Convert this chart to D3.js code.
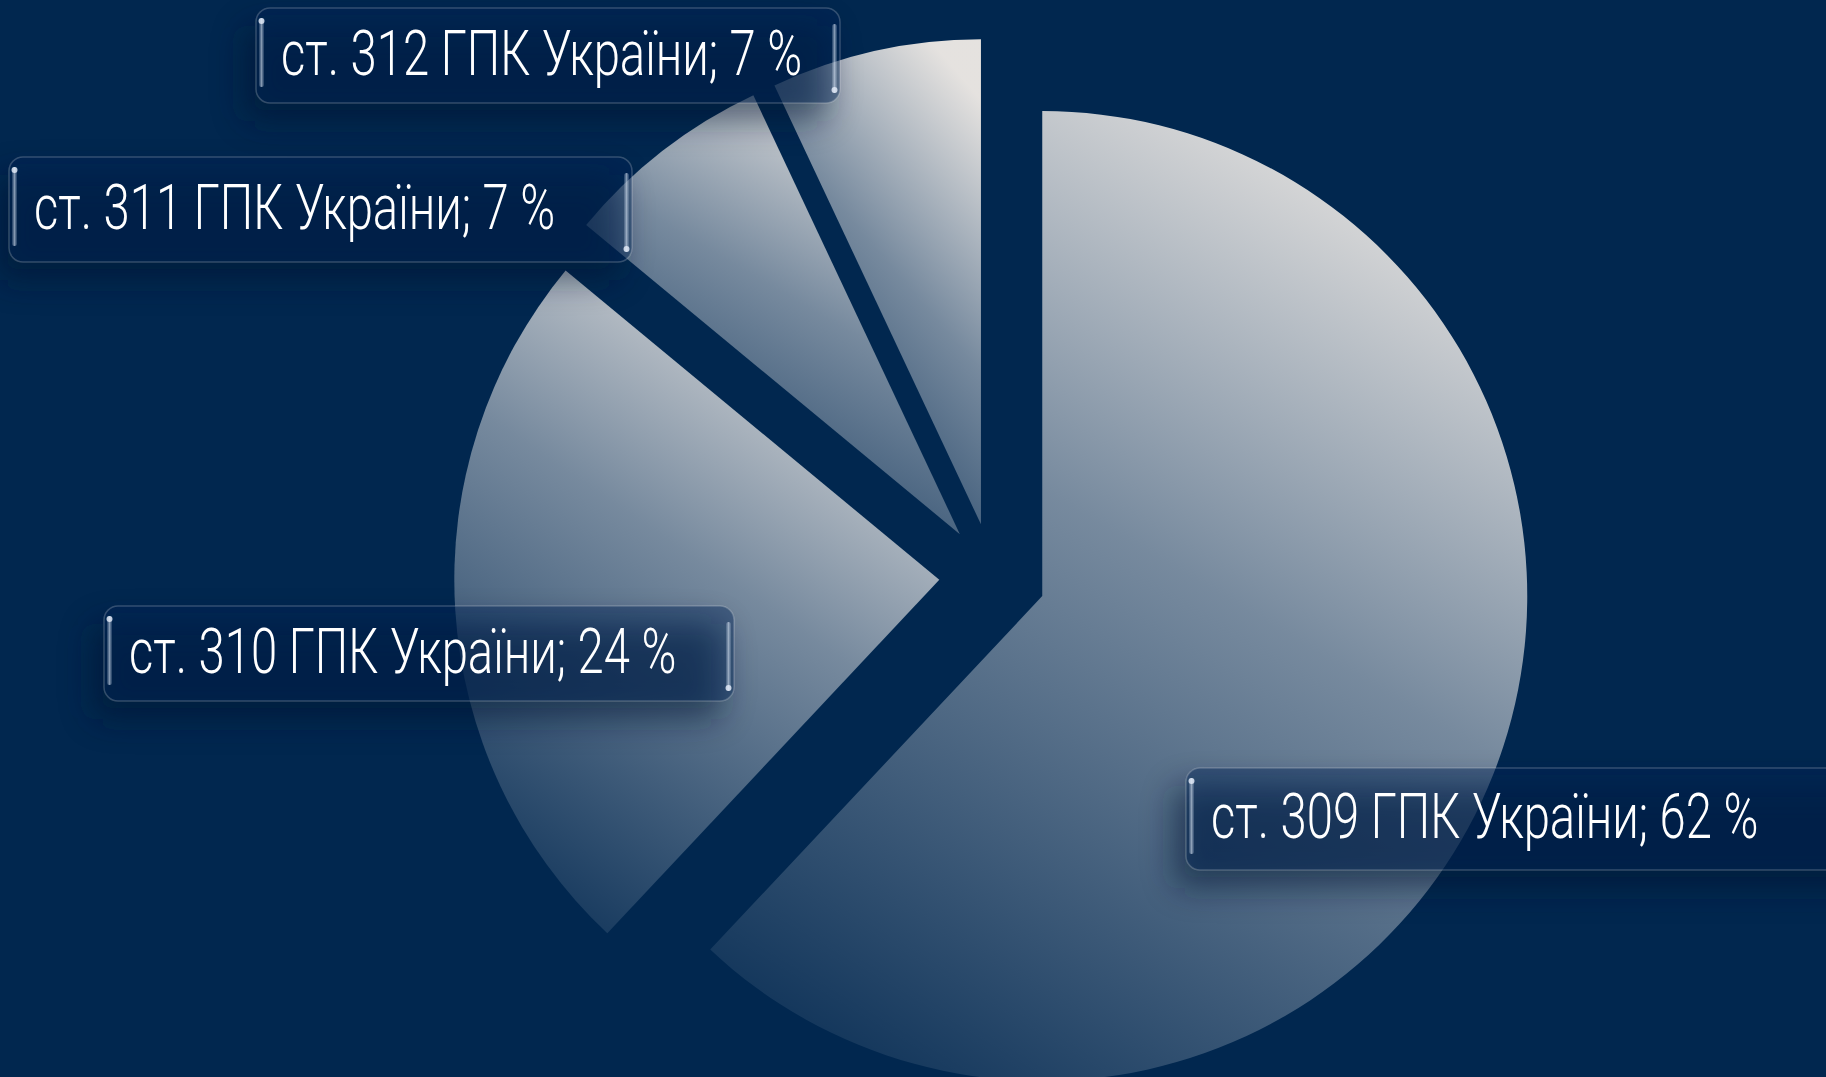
<!DOCTYPE html>
<html>
<head>
<meta charset="utf-8">
<script src="https://cdn.jsdelivr.net/npm/d3@7"></script>
<style>
  body { margin: 0; background: #01274f; overflow: hidden; }
  .lbl { font-family: "Roboto Light", Roboto, "Noto Sans", sans-serif; font-weight: 300; fill: #ffffff; }
</style>
</head>
<body>
<div id="chart"></div>
<script>
// data
let articles = ["ст. 309 ГПК України", "ст. 310 ГПК України", "ст. 311 ГПК України", "ст. 312 ГПК України"];
let shares = [62, 24, 7, 7];
let unit = " %";

// label boxes (page px), same order as articles
let boxX = [1186, 104, 9, 256];
let boxY = [768, 606, 157, 8];
let boxW = [700, 630, 623, 584];
let boxH = [102, 95, 105, 95];

let W = 1826, H = 1077;
let cx = 992.6, cy = 576.4;
let radius = 485;
let explode = 53.4;
let fontSize = 63;
let condense = 0.75;

let svg = d3.select("#chart").append("svg")
    .attr("width", W)
    .attr("height", H)
    .attr("style", "display:block;background:#01274f");

let defs = svg.append("defs");

let grad = defs.append("linearGradient")
    .attr("id", "sliceGrad")
    .attr("x1", 0.75).attr("y1", 0)
    .attr("x2", 0.25).attr("y2", 1);
grad.append("stop").attr("offset", "0%").attr("stop-color", "#f6f0ea").attr("stop-opacity", 0.93);
grad.append("stop").attr("offset", "45%").attr("stop-color", "#fbf9f7").attr("stop-opacity", 0.47);
grad.append("stop").attr("offset", "100%").attr("stop-color", "#ffffff").attr("stop-opacity", 0.08);

// glass edge highlight
let hl = defs.append("linearGradient").attr("id", "edgeGlow");
hl.append("stop").attr("offset", "0%").attr("stop-color", "#c8d6ea").attr("stop-opacity", 0.15);
hl.append("stop").attr("offset", "50%").attr("stop-color", "#dde8f6").attr("stop-opacity", 0.6);
hl.append("stop").attr("offset", "100%").attr("stop-color", "#c8d6ea").attr("stop-opacity", 0.15);

defs.append("filter")
    .attr("id", "blurShadow")
    .attr("x", "-30%").attr("y", "-60%").attr("width", "160%").attr("height", "220%")
  .append("feGaussianBlur")
    .attr("stdDeviation", 16);

defs.append("filter")
    .attr("id", "soft")
    .attr("x", "-100%").attr("y", "-20%").attr("width", "300%").attr("height", "140%")
  .append("feGaussianBlur")
    .attr("stdDeviation", 0.6);

let pieGen = d3.pie().sort(null).value(d => d).startAngle(0).endAngle(2 * Math.PI);
let arcGen = d3.arc().innerRadius(0).outerRadius(radius);
let arcs = pieGen(shares);

// slices, each pulled out along its middle angle
svg.append("g")
    .attr("transform", "translate(" + cx + "," + cy + ")")
  .selectAll("path")
  .data(arcs)
  .enter().append("path")
    .attr("transform", function(d) {
      let mid = (d.startAngle + d.endAngle) / 2;
      return "translate(" + (explode * Math.sin(mid)) + "," + (-explode * Math.cos(mid)) + ")";
    })
    .attr("fill", "url(#sliceGrad)")
    .attr("d", arcGen);

// label boxes
let lg = svg.selectAll("g.label")
  .data(arcs)
  .enter().append("g")
    .attr("class", "label")
    .attr("transform", function(d, i) { return "translate(" + boxX[i] + "," + boxY[i] + ")"; });

lg.append("rect")     // soft shadow
    .attr("x", -12).attr("y", 18)
    .attr("width", (d, i) => boxW[i]).attr("height", (d, i) => boxH[i])
    .attr("rx", 14)
    .attr("fill", "#001530")
    .attr("opacity", 0.55)
    .attr("filter", "url(#blurShadow)");

lg.append("rect")     // glass box
    .attr("width", (d, i) => boxW[i]).attr("height", (d, i) => boxH[i])
    .attr("rx", 14)
    .attr("fill", "rgba(0,35,85,0.42)")
    .attr("stroke", "rgba(255,255,255,0.2)")
    .attr("stroke-width", 1.5);

// edge highlights
lg.append("rect")
    .attr("x", 3).attr("y", 10)
    .attr("width", 5).attr("height", (d, i) => boxH[i] - 26)
    .attr("rx", 2.5)
    .attr("fill", "url(#edgeGlow)")
    .attr("filter", "url(#soft)");
lg.append("circle")
    .attr("cx", 5.5).attr("cy", 13).attr("r", 3)
    .attr("fill", "rgba(230,238,250,0.8)");
lg.append("rect")
    .attr("x", (d, i) => boxW[i] - 8).attr("y", 16)
    .attr("width", 5).attr("height", (d, i) => boxH[i] - 26)
    .attr("rx", 2.5)
    .attr("fill", "url(#edgeGlow)")
    .attr("filter", "url(#soft)");
lg.append("circle")
    .attr("cx", (d, i) => boxW[i] - 5.5).attr("cy", (d, i) => boxH[i] - 13).attr("r", 3)
    .attr("fill", "rgba(230,238,250,0.8)");

lg.append("text")
    .attr("class", "lbl")
    .attr("transform", (d, i) => "translate(25," + (boxH[i] / 2 + 19) + ") scale(" + condense + ",1)")
    .attr("font-size", fontSize)
    .text((d, i) => articles[i] + "; " + shares[i] + unit);
</script>
</body>
</html>
